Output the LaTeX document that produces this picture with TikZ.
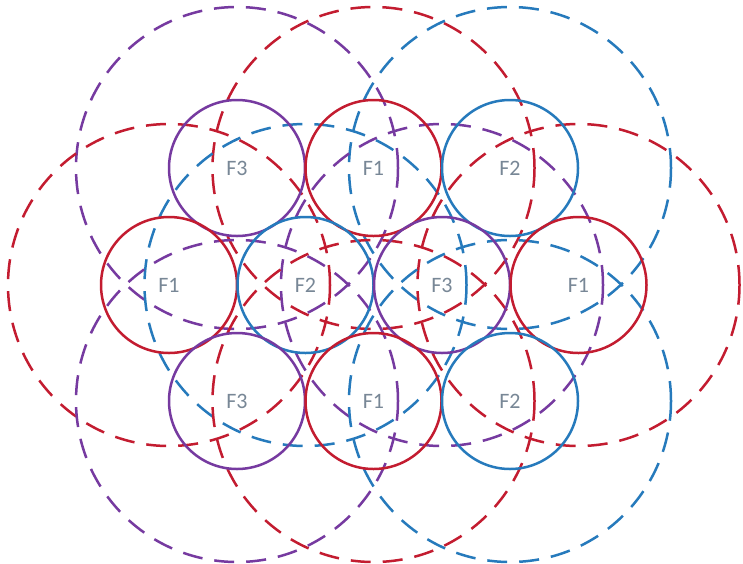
\documentclass[tikz,border=0pt]{standalone}
\usepackage{fontspec}
\setmainfont{Carlito}
\definecolor{cred}{RGB}{195,28,48}
\definecolor{cpur}{RGB}{118,58,160}
\definecolor{cblu}{RGB}{38,122,188}
\definecolor{ctxt}{RGB}{120,135,150}
\begin{document}
\begin{tikzpicture}[x=1pt,y=-1pt,
  cell/.style={circle, draw, line width=2.5pt, minimum size=136pt, inner sep=0pt,
               text=ctxt, font=\fontsize{22}{22}\selectfont},
  zone/.style={line width=2.5pt, dash pattern=on 20pt off 12pt}]
\useasboundingbox[fill=white] (0,0) rectangle (743,563);
% cells
\coordinate (pT1) at (237,168);
\coordinate (pT2) at (373.5,168);
\coordinate (pT3) at (510,168);
\coordinate (pM1) at (169,285);
\coordinate (pM2) at (305.5,285);
\coordinate (pM3) at (442,285);
\coordinate (pM4) at (578.5,285);
\coordinate (pB1) at (237,401);
\coordinate (pB2) at (373.5,401);
\coordinate (pB3) at (510,401);
% dashed zones
\draw[zone, cpur] (pT1) circle[radius=161pt];
\draw[zone, cred] (pT2) circle[radius=161pt];
\draw[zone, cblu] (pT3) circle[radius=161pt];
\draw[zone, cred] (pM1) circle[radius=161pt];
\draw[zone, cblu] (pM2) circle[radius=161pt];
\draw[zone, cpur] (pM3) circle[radius=161pt];
\draw[zone, cred] (pM4) circle[radius=161pt];
\draw[zone, cpur] (pB1) circle[radius=161pt];
\draw[zone, cred] (pB2) circle[radius=161pt];
\draw[zone, cblu] (pB3) circle[radius=161pt];
% solid cells
\node[cell, draw=cpur] (T1) at (pT1) {F3};
\node[cell, draw=cred] (T2) at (pT2) {F1};
\node[cell, draw=cblu] (T3) at (pT3) {F2};
\node[cell, draw=cred] (M1) at (pM1) {F1};
\node[cell, draw=cblu] (M2) at (pM2) {F2};
\node[cell, draw=cpur] (M3) at (pM3) {F3};
\node[cell, draw=cred] (M4) at (pM4) {F1};
\node[cell, draw=cpur] (B1) at (pB1) {F3};
\node[cell, draw=cred] (B2) at (pB2) {F1};
\node[cell, draw=cblu] (B3) at (pB3) {F2};
\end{tikzpicture}
\end{document}
